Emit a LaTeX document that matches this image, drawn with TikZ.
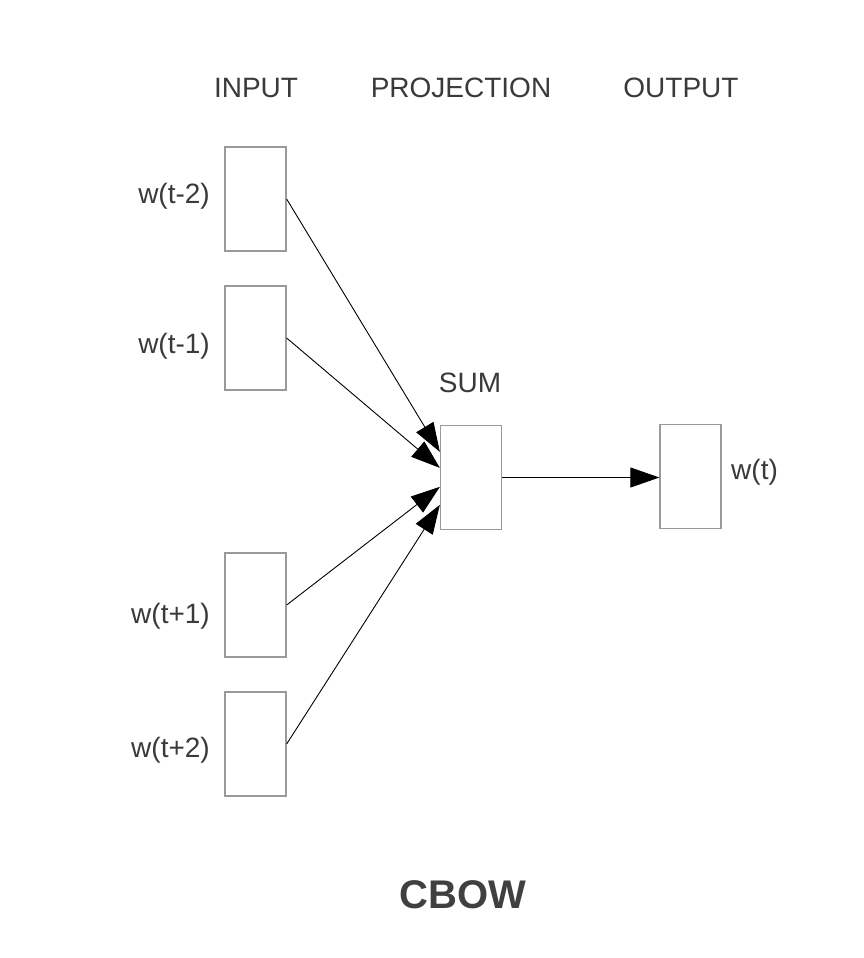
\documentclass[tikz,border=0pt]{standalone}
\usepackage{fontspec}
\setmainfont{Liberation Sans}
\usetikzlibrary{arrows.meta}
\definecolor{boxgray}{HTML}{9A9A9A}
\definecolor{labelgray}{HTML}{3A3A3A}
\definecolor{titlegray}{HTML}{404040}
\begin{document}
\begin{tikzpicture}[x=1pt,y=-1pt,
  unit/.style={draw=boxgray,line width=1.3pt,fill=white,inner sep=0pt,
    minimum width=61pt,minimum height=104pt},
  lbl/.style={text=labelgray,inner sep=0pt,font=\fontsize{28}{32}\selectfont},
  title/.style={text=titlegray,inner sep=0pt,font=\fontsize{40}{46}\selectfont\bfseries},
  link/.style={black,line width=0.9pt,-{Triangle[length=29pt,width=20pt]}}]
\useasboundingbox[fill=white] (0,0) rectangle (864,958);

% column headings
\node[lbl,anchor=base] (hin)   at (256,97) {INPUT};
\node[lbl,anchor=base] (hproj) at (461,97) {PROJECTION};
\node[lbl,anchor=base] (hout)  at (681,97) {OUTPUT};

% input word units
\node[unit] (in1) at (255.5,199) {};
\node[unit] (in2) at (255.5,338) {};
\node[unit] (in3) at (255.5,605) {};
\node[unit] (in4) at (255.5,744) {};

\node[lbl,anchor=east] (l1) at (210,196) {w(t-2)};
\node[lbl,anchor=east] (l2) at (210,346) {w(t-1)};
\node[lbl,anchor=east] (l3) at (210,616) {w(t+1)};
\node[lbl,anchor=east] (l4) at (210,750) {w(t+2)};

% projection (sum) unit
\node[unit] (sum) at (471,477.5) {};
\node[lbl,anchor=base] (sumlbl) at (470,392) {SUM};

% output unit
\node[unit] (out) at (690.5,476.5) {};
\node[lbl,anchor=west] (lout) at (731,472) {w(t)};

% connections into the sum
\draw[link] (in1.east) -- ([yshift=-27pt]sum.north west);
\draw[link] (in2.east) -- ([yshift=-43pt]sum.north west);
\draw[link] (in3.east) -- ([yshift=-62pt]sum.north west);
\draw[link] (in4.east) -- ([yshift=-80pt]sum.north west);

% sum to output
\draw[link] (sum.east) -- (sum.east -| out.west);

% caption
\node[title,anchor=base] (cap) at (463,908) {CBOW};
\end{tikzpicture}
\end{document}
